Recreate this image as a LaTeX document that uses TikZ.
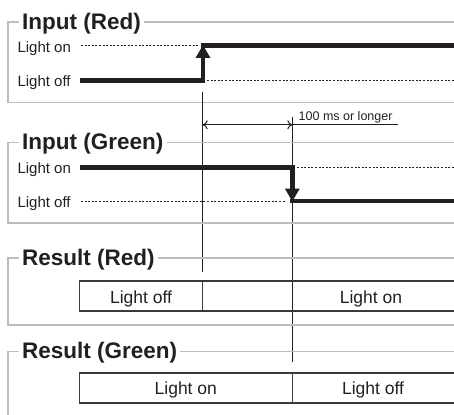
\documentclass[tikz,border=0pt]{standalone}
\usepackage{fontspec}
\setmainfont{Liberation Sans}
\usetikzlibrary{arrows.meta,calc}
\definecolor{framegray}{HTML}{BDBDBD}
\definecolor{ink}{HTML}{231F20}
\definecolor{boxgray}{HTML}{3A3A3A}
\begin{document}
\begin{tikzpicture}[x=1pt,y=-1pt,
  frame/.style={draw=framegray,line width=1.3pt},
  title/.style={font=\fontsize{22.5}{26}\selectfont\bfseries, text=ink, anchor=base west, inner xsep=3pt, inner ysep=0pt},
  lbl/.style={font=\fontsize{15}{17}\selectfont, text=ink, anchor=base west, inner sep=0pt},
  sig/.style={line width=4.7pt, draw=ink},
  dots/.style={line width=0.8pt, draw=ink, dash pattern=on 2pt off 1.6pt},
  guide/.style={line width=1pt, draw=ink},
  boxline/.style={line width=1.2pt, draw=boxgray},
  boxtxt/.style={font=\fontsize{17.5}{20}\selectfont, text=ink, anchor=base, inner sep=0pt},
  uptip/.style={-{Triangle[width=14pt,length=13pt]}},
  dimtip/.style={{To[length=5pt,width=9pt]}-{To[length=5pt,width=9pt]}}
]
\useasboundingbox (0,0) rectangle (454,414);
\clip (0,0) rectangle (454,414);

% ---------- Input (Red) ----------
\node[title] (tIR) at (19,29.3) {Input (Red)};
\draw[frame] (tIR.west |- 0,22) -- (8,22) -- (8,102.3) -- (460,102.3);
\draw[frame] (tIR.east |- 0,22) -- (460,22);
\node[lbl] (onR) at (17.3,53) {Light on};
\node[lbl] (offR) at (17.3,86.5) {Light off};
\draw[dots] (81,45.7) -- (199,45.7);
\draw[dots] (207,80.7) -- (460,80.7);
\draw[sig,uptip] (80,80.7) -- (203,80.7) -- (203,45);
\draw[sig] (200.8,45.7) -- (460,45.7);

% ---------- guides and dimension ----------
\coordinate (g1top) at (202.7,91.7);
\coordinate (g1bot) at (202.7,272);
\coordinate (g2top) at (292.3,117);
\coordinate (g2bot) at (292.3,362);
\draw[guide] (g1top) -- (g1bot);
\draw[guide] (g2top) -- (g2bot);
\coordinate (d1) at (202.7,124.8);
\coordinate (d2) at (292.3,124.8);
\coordinate (d3) at (398,124.8);
\draw[guide,dimtip] (d1) -- (d2);
\draw[guide] (d2) -- (d3);
\node[font=\fontsize{12.5}{15}\selectfont, text=ink, anchor=base west, inner sep=0pt] (dimtxt) at (298.5,120.6) {100 ms or longer};

% ---------- Input (Green) ----------
\node[title] (tIG) at (19,149.5) {Input (Green)};
\draw[frame] (tIG.west |- 0,142.3) -- (8,142.3) -- (8,223) -- (460,223);
\draw[frame] (tIG.east |- 0,142.3) -- (460,142.3);
\node[lbl] (onG) at (17.3,173.5) {Light on};
\node[lbl] (offG) at (17.3,207.5) {Light off};
\draw[dots] (81,201) -- (286,201);
\draw[dots] (297,167.7) -- (460,167.7);
\draw[sig,uptip] (80,167.7) -- (292.3,167.7) -- (292.3,201.5);
\draw[sig] (290.1,201) -- (460,201);

% ---------- Result (Red) ----------
\node[title] (tRR) at (19,265) {Result (Red)};
\draw[frame] (tRR.west |- 0,258) -- (8,258) -- (8,325) -- (460,325);
\draw[frame] (tRR.east |- 0,258) -- (460,258);
\draw[boxline] (460,281) -- (79.3,281) -- (79.3,311) -- (460,311);
\draw[boxline] (202.7,281) -- (202.7,311);
\node[boxtxt] (rr1) at (141,303.5) {Light off};
\node[boxtxt] (rr2) at (371,303.5) {Light on};

% ---------- Result (Green) ----------
\node[title] (tRG) at (19,358.5) {Result (Green)};
\draw[frame] (tRG.west |- 0,351.7) -- (8,351.7) -- (8,420);
\draw[frame] (tRG.east |- 0,351.7) -- (460,351.7);
\draw[boxline] (460,373) -- (79.3,373) -- (79.3,403) -- (460,403);
\draw[boxline] (292.3,373) -- (292.3,403);
\node[boxtxt] (rg1) at (185.8,394) {Light on};
\node[boxtxt] (rg2) at (373,394) {Light off};
\end{tikzpicture}
\end{document}
